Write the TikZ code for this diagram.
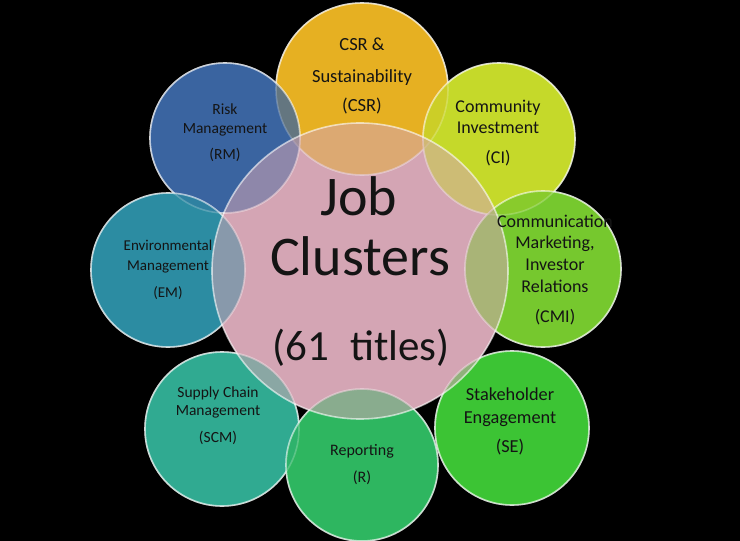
\documentclass[tikz,border=0pt]{standalone}
\usepackage{fontspec}
\setmainfont{Carlito}
\definecolor{hubc}{RGB}{212,165,180}
\definecolor{csrc}{RGB}{230,176,34}
\definecolor{rmc}{RGB}{58,100,160}
\definecolor{cic}{RGB}{197,217,42}
\definecolor{cmic}{RGB}{118,200,46}
\definecolor{emc}{RGB}{44,140,162}
\definecolor{scmc}{RGB}{48,170,145}
\definecolor{rc}{RGB}{46,182,96}
\definecolor{sec}{RGB}{60,196,52}
\definecolor{txt}{RGB}{20,20,20}
\newcommand\fsz[1]{\fontsize{#1}{#1}\selectfont}
\tikzset{
  ball/.style={circle, inner sep=0pt, outer sep=0pt},
  rim/.style={draw=white, draw opacity=0.75, line width=1.6pt},
  lab/.style={anchor=base, text=txt, inner sep=0pt}
}
\begin{document}
\begin{tikzpicture}[x=1pt,y=-1pt]
\fill[black] (0,0) rectangle (740,541);
\useasboundingbox (0,0) rectangle (740,541);
% hub, opaque base
\node[ball, minimum size=296pt, fill=hubc] (hubbase) at (360,271) {};
% outer circles
\foreach \n/\x/\y/\r/\c in {csr/362/89/86/csrc, rm/225/138/75/rmc, ci/499/139/76/cic, cmi/543/269/78/cmic, em/168/270/77/emc, scm/222/429/77/scmc, rep/362/465/76/rc, se/512/428/77/sec}{
  \node[ball, minimum size=2*\r pt, fill=\c, rim] (\n) at (\x,\y) {};
}
\foreach \n/\x/\y/\r/\c in {csr/362/89/86/csrc, rm/225/138/75/rmc, ci/499/139/76/cic, cmi/543/269/78/cmic, em/168/270/77/emc, scm/222/429/77/scmc, rep/362/465/76/rc, se/512/428/77/sec}{
  \node[ball, minimum size=2*\r pt, fill=\c, fill opacity=0.45, rim, draw opacity=0.4] (\n g) at (\x,\y) {};
}
% hub, translucent on top
\node[ball, minimum size=296pt, fill=hubc, fill opacity=0.55, rim, draw opacity=0.6] (hub) at (360,271) {};
% hub text
\node[lab, font=\fsz{56}] (t1) at (359,215) {Job};
\node[lab, font=\fsz{56}] (t2) at (360,275) {Clusters};
\node[lab, font=\fsz{43}] (t3) at (361,360) {(61\hspace{0.5em}titles)};
% CSR
\node[lab, font=\fsz{18.5}] (csr1) at (362,50) {CSR \&};
\node[lab, font=\fsz{18.5}] (csr2) at (362,82) {Sustainability};
\node[lab, font=\fsz{18.5}] (csr3) at (362,111) {(CSR)};
% RM
\node[lab, font=\fsz{15.5}] (rm1) at (225,114) {Risk};
\node[lab, font=\fsz{15.5}] (rm2) at (225,133) {Management};
\node[lab, font=\fsz{15.5}] (rm3) at (225,159) {(RM)};
% CI
\node[lab, font=\fsz{18}] (ci1) at (498,112) {Community};
\node[lab, font=\fsz{18}] (ci2) at (498,133) {Investment};
\node[lab, font=\fsz{18}] (ci3) at (498,163) {(CI)};
% CMI
\node[lab, font=\fsz{18}] (cmi1) at (555,227) {Communication};
\node[lab, font=\fsz{18}] (cmi2) at (555,248) {Marketing,};
\node[lab, font=\fsz{18}] (cmi3) at (555,270) {Investor};
\node[lab, font=\fsz{18}] (cmi4) at (555,292) {Relations};
\node[lab, font=\fsz{18}] (cmi5) at (555,322) {(CMI)};
% EM
\node[lab, font=\fsz{15}] (em1) at (168,250) {Environmental};
\node[lab, font=\fsz{15}] (em2) at (168,270) {Management};
\node[lab, font=\fsz{15}] (em3) at (168,297) {(EM)};
% SCM
\node[lab, font=\fsz{15.5}] (scm1) at (218,397) {Supply Chain};
\node[lab, font=\fsz{15.5}] (scm2) at (218,415) {Management};
\node[lab, font=\fsz{15.5}] (scm3) at (218,442) {(SCM)};
% R
\node[lab, font=\fsz{16}] (rep1) at (362,455) {Reporting};
\node[lab, font=\fsz{16}] (rep2) at (362,482) {(R)};
% SE
\node[lab, font=\fsz{18.3}] (se1) at (510,400) {Stakeholder};
\node[lab, font=\fsz{18.3}] (se2) at (510,423) {Engagement};
\node[lab, font=\fsz{18.3}] (se3) at (510,452) {(SE)};
\end{tikzpicture}
\end{document}
